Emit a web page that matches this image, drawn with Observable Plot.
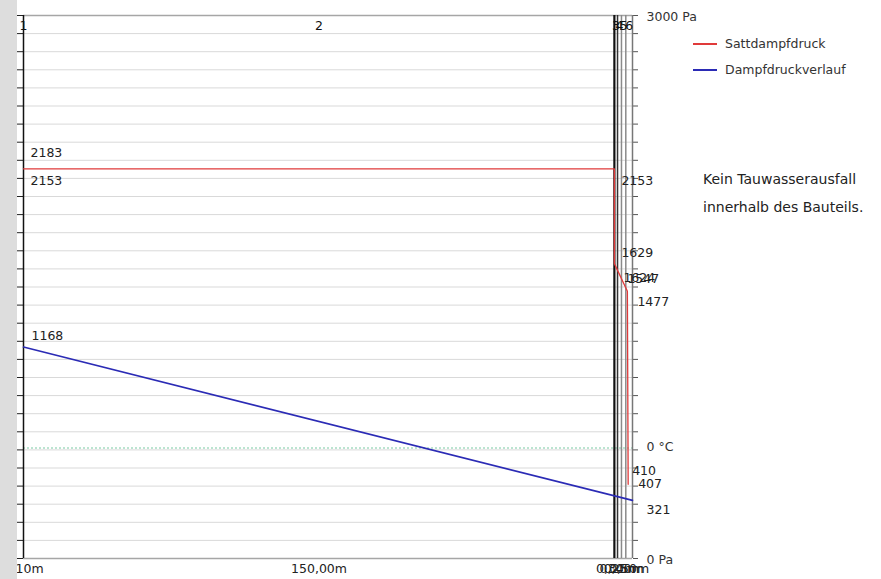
<!DOCTYPE html>
<html>
<head>
<meta charset="utf-8">
<script src="https://cdn.jsdelivr.net/npm/d3@7"></script>
<script src="https://cdn.jsdelivr.net/npm/@observablehq/plot@0.6"></script>
<style>
  html, body { margin: 0; padding: 0; background: #fff; }
  #wrap { position: relative; width: 881px; height: 579px; overflow: hidden; font-family: "DejaVu Sans", sans-serif; color: #333; }
  #chart { position: absolute; left: 0; top: 0; }
  #strip { position: absolute; left: 0; top: 0; width: 17px; height: 579px; background: #dddddd; }
  .leg { position: absolute; font-size: 12.5px; line-height: 14px; color: #333; white-space: nowrap; }
  .leg i { display: inline-block; width: 24px; height: 0; border-top: 2px solid; vertical-align: middle; margin-right: 8px; position: relative; top: -1px; }
  .note { position: absolute; font-size: 14px; color: #222; white-space: nowrap; }
</style>
</head>
<body>
<div id="wrap">
  <div id="chart"></div>
  <div id="strip"></div>
  <div class="leg" style="left:693px; top:37px;"><i style="border-color:#e03a3a"></i>Sattdampfdruck</div>
  <div class="leg" style="left:693px; top:63px;"><i style="border-color:#2b2bb5"></i>Dampfdruckverlauf</div>
  <div class="note" style="left:703px; top:171px;">Kein Tauwasserausfall</div>
  <div class="note" style="left:703px; top:199px;">innerhalb des Bauteils.</div>
</div>
<script>
// ---- data ----
const layerNames = ["1", "2", "3", "4", "5", "6"];
const layerThickness = ["0,10m", "150,00m", "0,30m", "0,25m", "0,40m", "0,50m"];
const boundaries = [0, 0.03, 150.0, 150.8, 151.8, 152.9, 154.6];
const boundaryStyle = ["axis", "none", "heavy", "dark", "grey", "grey", "axisR"];

const satX  = [0, 150.0, 150.0, 153.3, 153.5];
const satPa = [2153, 2153, 1629, 1477, 410];

const vapX  = [0, 154.6];
const vapPa = [1168, 321];

const zeroCPa = 611;

const valueText = ["2183", "2153", "1168", "2153", "1629", "1624", "1547", "1477", "410", "407", "321"];
const valueAtX  = [0, 0, 0, 150.0, 150.0, 150.0, 150.0, 153.3, 153.5, 153.5, 154.6];
const valuePa   = [2183, 2153, 1168, 2153, 1629, 1624, 1547, 1477, 410, 407, 321];

const yTicks = d3.range(0, 3001, 100);
const axisText = ["3000 Pa", "0 Pa"];
const axisTextPa = [3000, 0];

// ---- label offsets (pixels) ----
const valueDx = [7, 7, 8, 7, 7, 9, 13, 10, 4, 10, 14];
const valueDy = [-10, 12, -11, 12, -11, 13, 1, 11, -13, -1, 10];

// ---- build ----
const xMax = boundaries[boundaries.length - 1];
const sat = satX.map((x, i) => ({x, y: satPa[i]}));
const vap = vapX.map((x, i) => ({x, y: vapPa[i]}));
const layers = layerNames.map((n, i) => ({
  name: n, thick: layerThickness[i], mid: (boundaries[i] + boundaries[i + 1]) / 2
}));
const vals = valueText.map((t, i) => ({t, x: valueAtX[i], y: valuePa[i]}));
const bnd = boundaries.map((b, i) => ({b, s: boundaryStyle[i]}));
const axisLabels = axisText.map((t, i) => ({t, y: axisTextPa[i]}));

const valueMarks = vals.map((v, i) =>
  Plot.text([v], {x: "x", y: "y", text: "t", dx: valueDx[i], dy: valueDy[i], textAnchor: "start", fill: "#222"})
);

const chart = Plot.plot({
  width: 881,
  height: 579,
  marginLeft: 23,
  marginRight: 249,
  marginTop: 15,
  marginBottom: 21,
  x: {domain: [0, xMax], axis: null},
  y: {domain: [0, 3000], axis: null},
  style: {fontFamily: "DejaVu Sans, sans-serif", fontSize: "12.5px", background: "transparent", color: "#222", overflow: "visible"},
  marks: [
    Plot.ruleY(yTicks.filter(v => v > 0 && v < 3000), {stroke: "#d9d9d9", strokeWidth: 1}),
    Plot.ruleY([0, 3000], {stroke: "#a6a6a6", strokeWidth: 1.5}),
    Plot.ruleY([zeroCPa], {stroke: "#a6dcc2", strokeWidth: 1.5, strokeDasharray: "2,2"}),
    Plot.axisY({anchor: "left", ticks: yTicks, tickSize: 6, tickFormat: () => "", label: null, stroke: "#222"}),
    Plot.axisY({anchor: "right", ticks: yTicks, tickSize: 5, tickFormat: () => "", label: null, stroke: "#555"}),
    Plot.ruleX(bnd.filter(d => d.s === "axis"), {x: "b", stroke: "#111", strokeWidth: 1.5}),
    Plot.ruleX(bnd.filter(d => d.s === "heavy"), {x: "b", stroke: "#111", strokeWidth: 2.2}),
    Plot.ruleX(bnd.filter(d => d.s === "dark"), {x: "b", stroke: "#333", strokeWidth: 1.5}),
    Plot.ruleX(bnd.filter(d => d.s === "grey"), {x: "b", stroke: "#8a8a8a", strokeWidth: 1.5}),
    Plot.ruleX(bnd.filter(d => d.s === "axisR"), {x: "b", stroke: "#777", strokeWidth: 1.5}),
    Plot.line(vap, {x: "x", y: "y", stroke: "#2b2bb5", strokeWidth: 1.6}),
    Plot.line(sat, {x: "x", y: "y", stroke: "#e03a3a", strokeWidth: 1.3}),
    ...valueMarks,
    Plot.text(layers, {x: "mid", text: "name", frameAnchor: "top", dy: 6, fill: "#111"}),
    Plot.text(layers, {x: "mid", text: "thick", frameAnchor: "bottom", dy: 14, fill: "#222"}),
    Plot.text(axisLabels, {x: xMax, y: "y", text: "t", textAnchor: "start", dx: 14, dy: 1, fill: "#333"}),
    Plot.text(["0 °C"], {x: xMax, y: zeroCPa, text: d => d, textAnchor: "start", dx: 14, dy: -1, fill: "#333"})
  ]
});
document.getElementById("chart").appendChild(chart);
</script>
</body>
</html>
